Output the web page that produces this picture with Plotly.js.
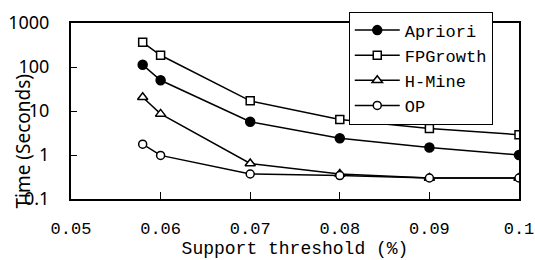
<!DOCTYPE html>
<html><head><meta charset="utf-8">
<script src="https://cdn.plot.ly/plotly-3.0.1.min.js"></script>
<style>body{margin:0;background:#fff}#c{width:535px;height:260px}</style>
</head><body><div id="c"></div>
<script>
const support = [0.058, 0.06, 0.07, 0.08, 0.09, 0.1];
const apriori = [112, 50, 5.7, 2.4, 1.48, 1.0];
const fpgrowth = [363, 185, 17, 6.4, 4.0, 2.9];
const hmine = [20.6, 8.6, 0.64, 0.37, 0.30, 0.30];
const op = [1.76, 0.98, 0.37, 0.34, 0.30, 0.30];
const xTicks = [0.05, 0.06, 0.07, 0.08, 0.09, 0.1];
const xTickText = ['0.05', '0.06', '0.07', '0.08', '0.09', '0.1'];
const yTicks = [0.1, 1, 10, 100, 1000];
const yTickText = ['0.1', '1', '10', '100', '1000'];

const M = 'Liberation Mono, DejaVu Sans Mono, monospace';
const S = 'Noto Sans, Open Sans, sans-serif';
function tr(name, y, sym, fill, size) {
  return {x: support, y: y, name: name, mode: 'lines+markers', type: 'scatter',
    line: {color: '#000', width: 1.5},
    marker: {symbol: sym, size: size, color: fill,
      line: {color: '#000', width: 1.5}}};
}
const data = [
  tr('Apriori', apriori, 'circle', '#000', 9),
  tr('FPGrowth', fpgrowth, 'square', '#fff', 8),
  tr('H-Mine', hmine, 'triangle-up', '#fff', 9),
  tr('OP', op, 'circle', '#fff', 8)
];
const layout = {
  width: 535, height: 260,
  margin: {l: 71, r: 16, t: 17, b: 61},
  paper_bgcolor: '#fff', plot_bgcolor: '#fff',
  font: {family: M, color: '#000', size: 17},
  showlegend: true,
  legend: {x: 0.62, y: 1.065, xanchor: 'left', yanchor: 'top',
    bgcolor: '#fff', bordercolor: '#000', borderwidth: 1,
    font: {family: M, size: 17, color: '#000'}, itemwidth: 45,
    tracegroupgap: 0},
  xaxis: {range: [0.05, 0.1], tickvals: xTicks, ticktext: xTickText,
    ticks: 'inside', ticklen: 7, tickcolor: '#000', tickwidth: 1,
    showline: true, linecolor: '#000', linewidth: 2, mirror: true,
    showgrid: false, zeroline: false, ticklabelstandoff: 13,
    tickfont: {family: M, size: 17},
    title: {text: 'Support threshold (%)', font: {family: M, size: 18}, standoff: 2}},
  yaxis: {type: 'log', range: [-1, 3], tickvals: yTicks, ticktext: yTickText,
    ticks: 'inside', ticklen: 6, tickcolor: '#000', tickwidth: 1,
    showline: true, linecolor: '#000', linewidth: 2, mirror: true,
    showgrid: false, zeroline: false, ticklabelstandoff: 16,
    tickfont: {family: S, size: 18}},
  annotations: [{text: 'Time (Seconds)', textangle: -90, xref: 'paper', yref: 'paper',
    x: -0.108, y: 0.33, xanchor: 'center', yanchor: 'middle', showarrow: false,
    font: {family: S, size: 19, color: '#000'}}]
};
Plotly.newPlot('c', data, layout, {staticPlot: true});
</script></body></html>
